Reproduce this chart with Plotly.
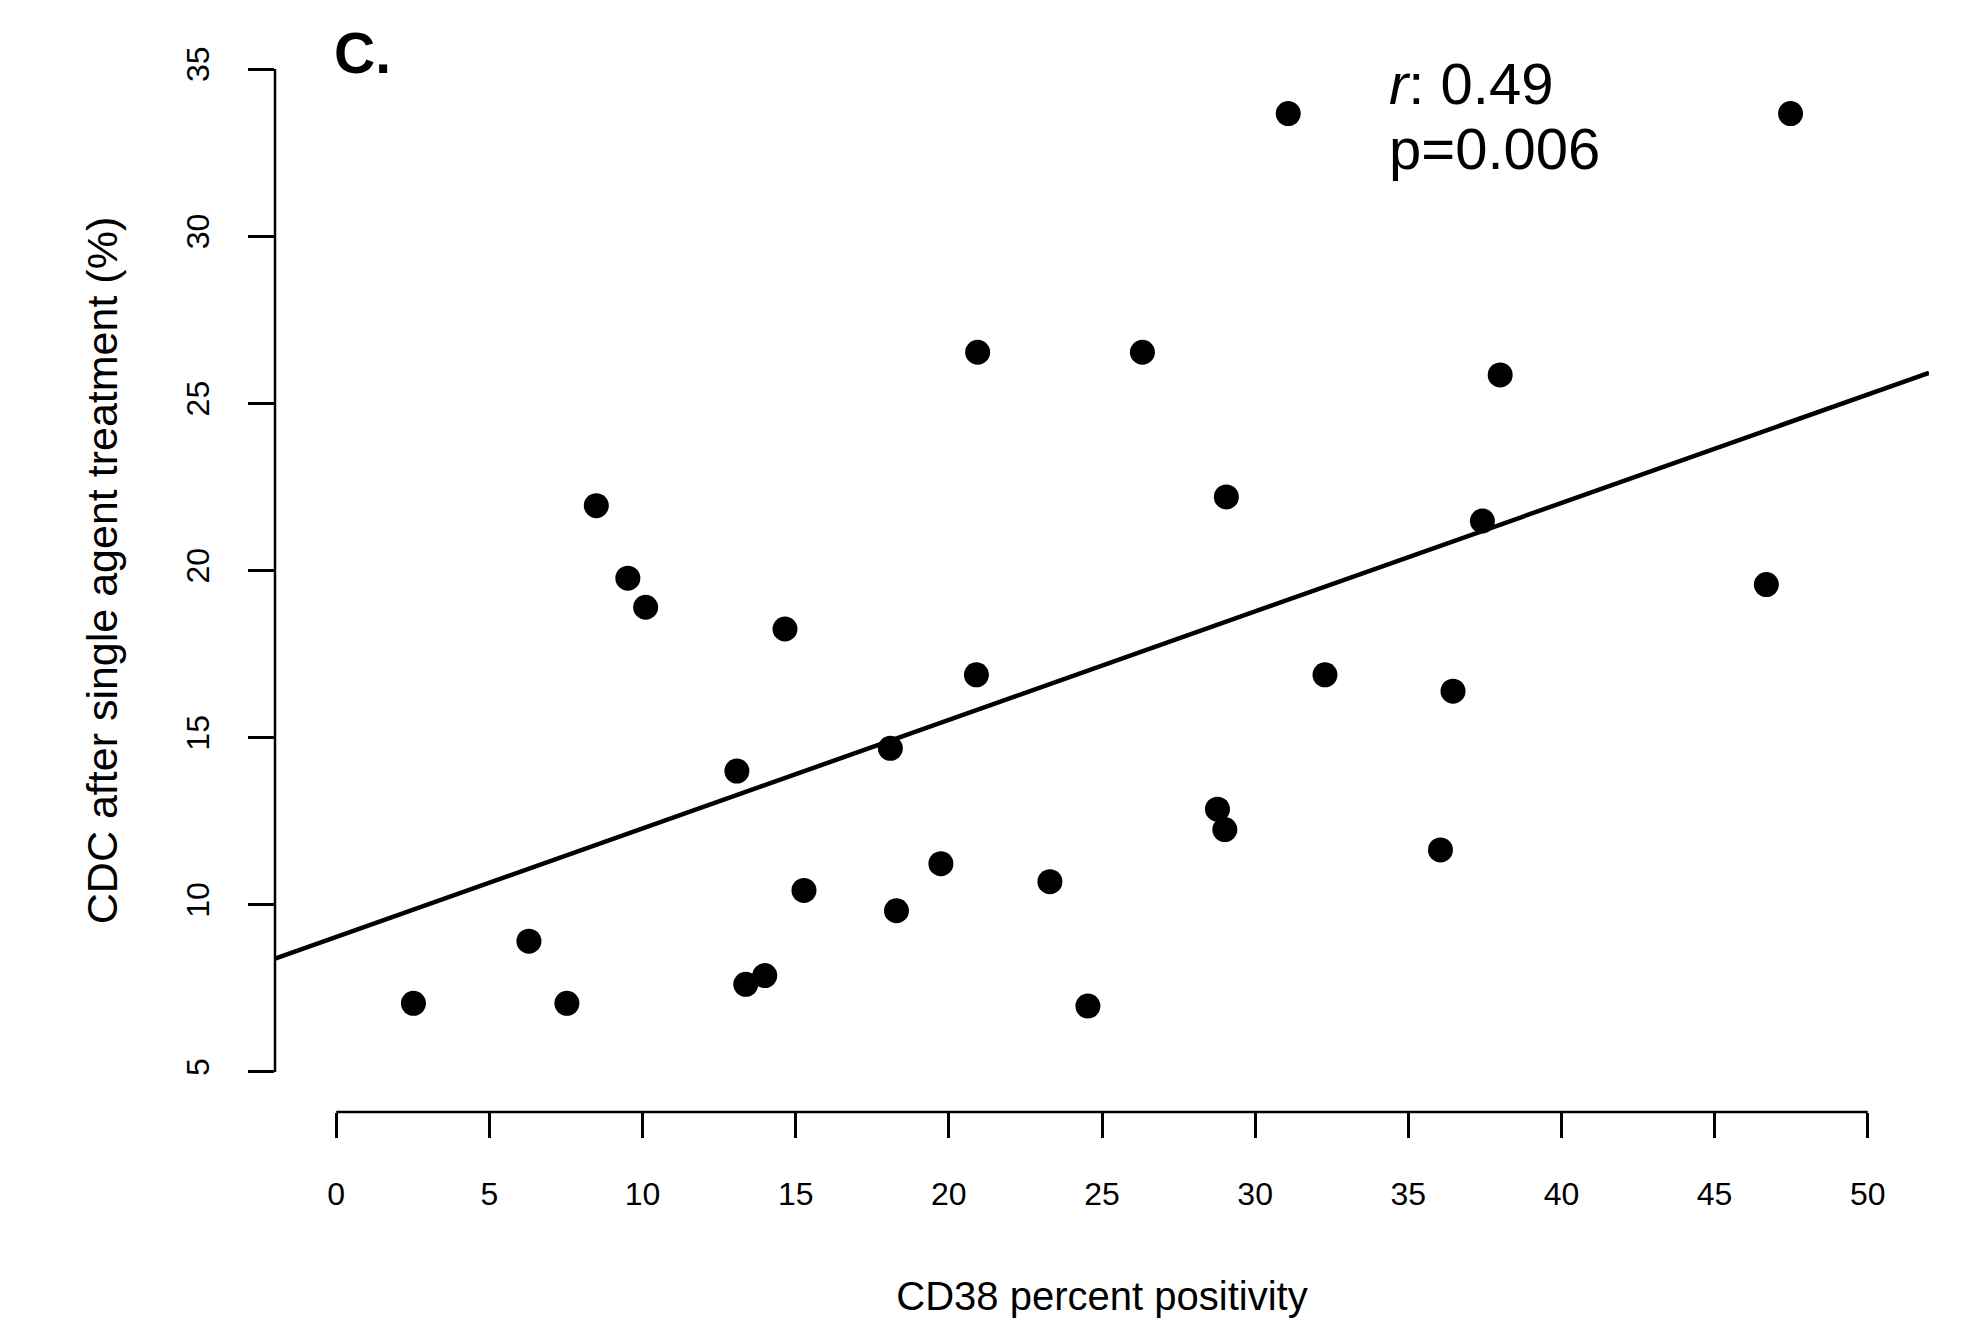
import numpy as np
import plotly.graph_objects as go

# ---- data ----
cd38_pct = [2.52, 6.29, 7.53, 8.49, 9.52, 10.10, 13.08, 13.37, 13.99, 14.65,
            15.27, 18.09, 18.29, 19.74, 20.90, 20.94, 23.30, 24.54, 26.32, 28.77,
            29.01, 29.06, 31.08, 32.28, 36.05, 36.46, 37.42, 38.00, 46.69, 47.48]
cdc_pct = [7.05, 8.91, 7.05, 21.94, 19.77, 18.90, 14.00, 7.62, 7.88, 18.25,
           10.43, 14.68, 9.82, 11.23, 16.88, 26.53, 10.69, 6.97, 26.53, 12.86,
           12.25, 22.20, 33.67, 16.88, 11.64, 16.39, 21.48, 25.85, 19.58, 33.67]
x_ticks = [0, 5, 10, 15, 20, 25, 30, 35, 40, 45, 50]
y_ticks = [5, 10, 15, 20, 25, 30, 35]
x_range = [-2, 52]
y_range = [3.8, 36.2]
panel_label = "C."
stat_lines = ["<i>r</i>: 0.49", "p=0.006"]
x_title = "CD38 percent positivity"
y_title = "CDC after single agent treatment (%)"

FONT = "Liberation Sans, Arial, Helvetica, sans-serif"

slope, intercept = np.polyfit(cd38_pct, cdc_pct, 1)
line_x = np.array(x_range, dtype=float)
line_y = intercept + slope * line_x

fig = go.Figure()
fig.add_trace(go.Scatter(x=line_x, y=line_y, mode="lines",
                         line=dict(color="black", width=4.5), hoverinfo="skip",
                         showlegend=False))
fig.add_trace(go.Scatter(x=cd38_pct, y=cdc_pct, mode="markers",
                         marker=dict(color="black", size=25, symbol="circle"),
                         showlegend=False))

# partial axis lines (R style), spanning first to last tick
fig.add_shape(type="line", xref="x", yref="paper", x0=min(x_ticks), x1=max(x_ticks),
              y0=0, y1=0, line=dict(color="black", width=2.5))
fig.add_shape(type="line", xref="paper", yref="y", x0=0, x1=0,
              y0=min(y_ticks), y1=max(y_ticks), line=dict(color="black", width=2.5))

fig.add_annotation(xref="paper", yref="paper", x=0.0345, y=0.978, text=f"<b>{panel_label}</b>",
                   showarrow=False, xanchor="left", yanchor="middle",
                   font=dict(family=FONT, size=57, color="black"))
fig.add_annotation(xref="paper", yref="paper", x=0.6725, y=0.950, text=stat_lines[0],
                   showarrow=False, xanchor="left", yanchor="middle",
                   font=dict(family=FONT, size=58, color="black"))
fig.add_annotation(xref="paper", yref="paper", x=0.6725, y=0.890, text=stat_lines[1],
                   showarrow=False, xanchor="left", yanchor="middle",
                   font=dict(family=FONT, size=58, color="black"))

fig.update_layout(
    width=1980, height=1335,
    margin=dict(l=267, r=59, t=21, b=231),
    paper_bgcolor="white", plot_bgcolor="white",
    font=dict(family=FONT, color="black"),
    xaxis=dict(range=x_range, tickvals=x_ticks, ticktext=[str(v) for v in x_ticks],
               ticks="outside", ticklen=25, tickwidth=2.5, tickcolor="black",
               showline=False, showgrid=False, zeroline=False,
               tickfont=dict(family=FONT, size=32, color="black"),
               ticklabelstandoff=29,
               title=dict(text=x_title, font=dict(family=FONT, size=40, color="black"),
                          standoff=70)),
    yaxis=dict(range=y_range, tickvals=y_ticks, ticktext=[str(v) for v in y_ticks],
               ticks="outside", ticklen=26, tickwidth=2.5, tickcolor="black",
               showline=False, showgrid=False, zeroline=False, tickangle=-90,
               tickfont=dict(family=FONT, size=32, color="black"),
               ticklabelstandoff=26,
               title=dict(text=y_title, font=dict(family=FONT, size=43, color="black"),
                          standoff=49)),
)

fig.write_html("out.html")
